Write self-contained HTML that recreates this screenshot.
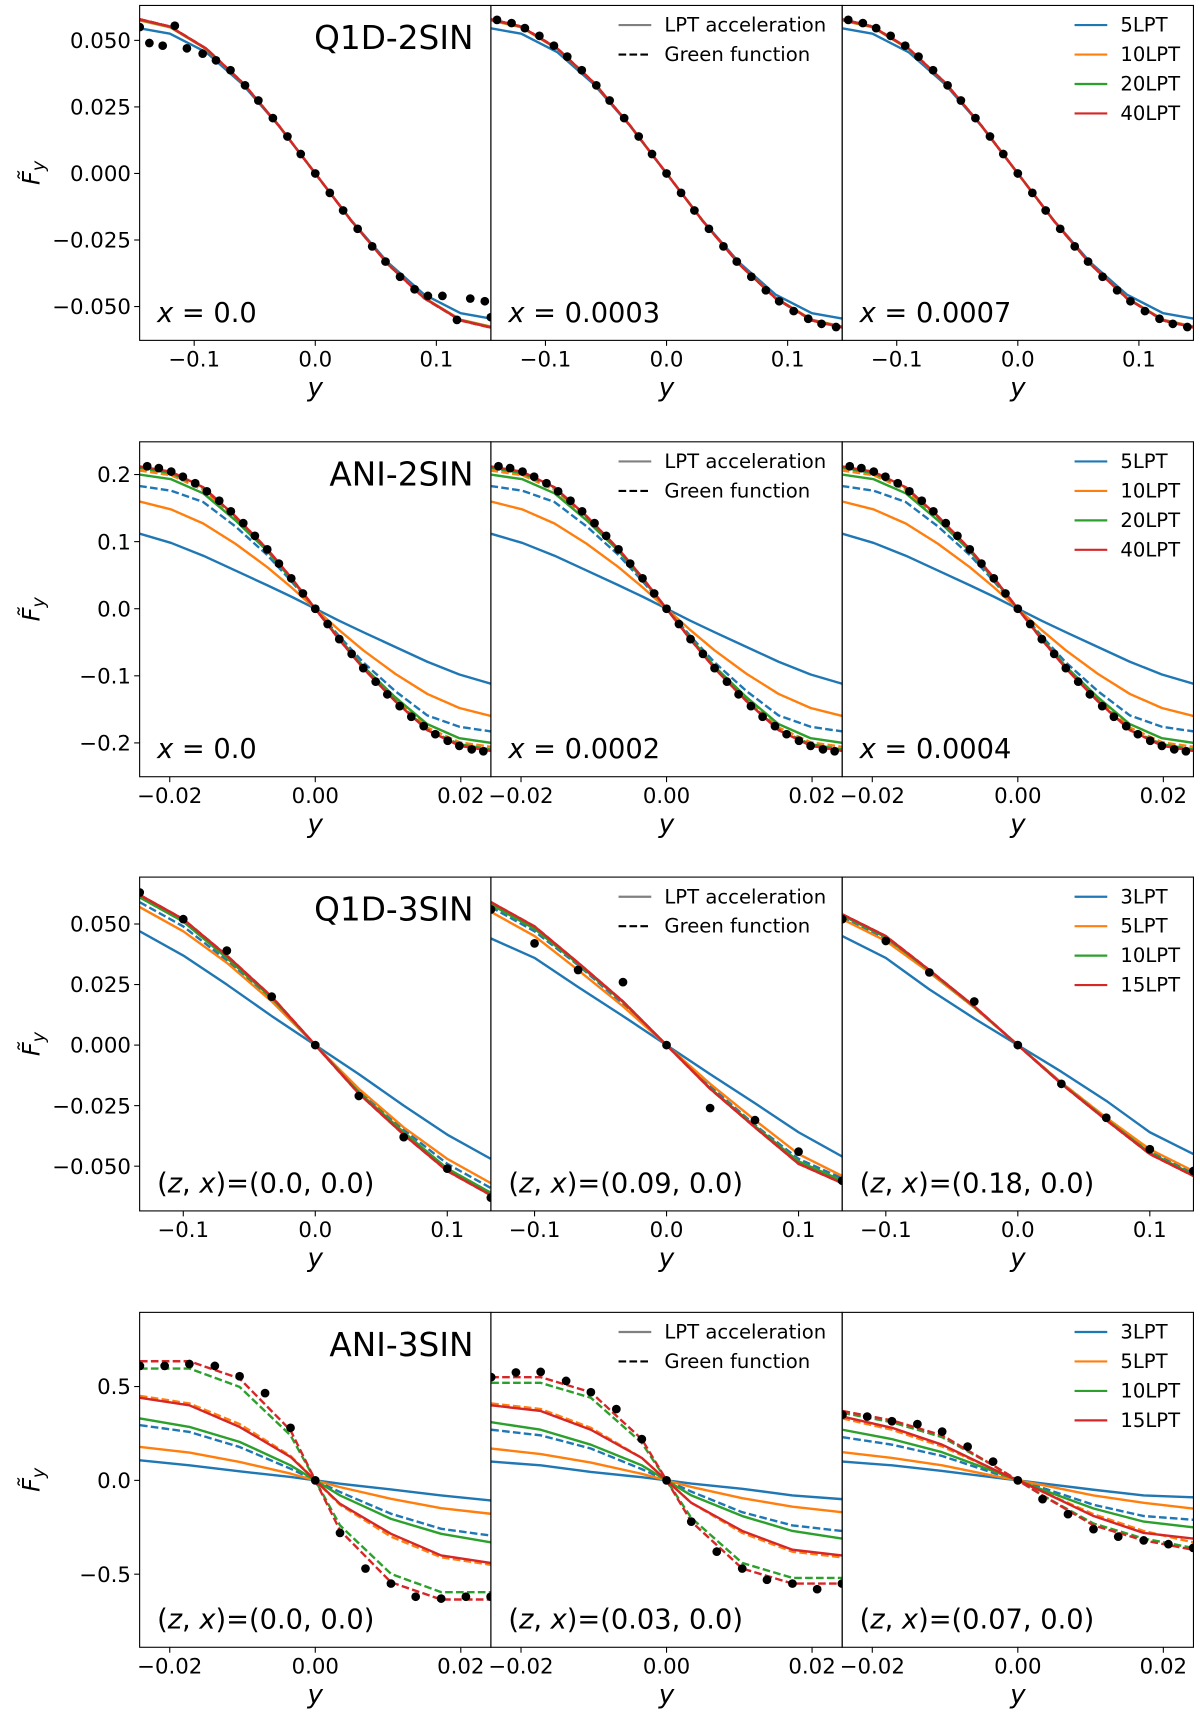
<!DOCTYPE html>
<html><head><meta charset="utf-8"><style>
html,body{margin:0;padding:0;background:#fff;}
svg{display:block;font-family:"DejaVu Sans","Liberation Sans",sans-serif;}
</style></head><body>
<svg id="fig" xmlns="http://www.w3.org/2000/svg" width="1200" height="1712" viewBox="0 0 1100 1569.33"></svg>
<script>
// ---------- Row 1: Q1D-2SIN ----------
const r1xs = [-0.145,-0.12,-0.09,-0.06,-0.03,0,0.03,0.06,0.09,0.12,0.145];
const r1red = [0.0579,0.0552,0.0469,0.0341,0.0179,0,-0.0179,-0.0341,-0.0469,-0.0552,-0.0579];
const r1green = [0.0577,0.0551,0.0468,0.0341,0.0179,0,-0.0179,-0.0341,-0.0468,-0.0551,-0.0577];
const r1orange = [0.0575,0.0549,0.0467,0.0340,0.0179,0,-0.0179,-0.0340,-0.0467,-0.0549,-0.0575];
const r1blue = [0.0545,0.0525,0.0455,0.0335,0.0178,0,-0.0178,-0.0335,-0.0455,-0.0525,-0.0545];
const r1dotX = [-0.14,-0.128,-0.117,-0.105,-0.093,-0.082,-0.070,-0.058,-0.047,-0.035,-0.023,-0.012,0,0.012,0.023,0.035,0.047,0.058,0.070,0.082,0.093,0.105,0.117,0.128,0.14];
const r1dotY = [0.0577,0.0565,0.0546,0.0517,0.048,0.0439,0.0388,0.0331,0.0274,0.0208,0.0139,0.0073,0,-0.0073,-0.0139,-0.0208,-0.0274,-0.0331,-0.0388,-0.0439,-0.048,-0.0517,-0.0546,-0.0565,-0.0577];
const r1p1dotX = [-0.145,-0.137,-0.126,-0.116,-0.106,-0.093,-0.082,-0.070,-0.058,-0.047,-0.035,-0.023,-0.012,0,0.012,0.023,0.035,0.047,0.058,0.070,0.082,0.093,0.105,0.117,0.128,0.14,0.145];
const r1p1dotY = [0.055,0.049,0.048,0.0555,0.047,0.045,0.0425,0.0388,0.0331,0.0274,0.0208,0.0139,0.0073,0,-0.0073,-0.0139,-0.0208,-0.0274,-0.0331,-0.0388,-0.0435,-0.046,-0.046,-0.055,-0.047,-0.048,-0.054];

// ---------- Row 2: ANI-2SIN ----------
const r2xs = [-0.0242,-0.0198,-0.0154,-0.011,-0.0066,-0.0033,0,0.0033,0.0066,0.011,0.0154,0.0198,0.0242];
const r2red = [0.212,0.204,0.181,0.138,0.089,0.046,0,-0.046,-0.089,-0.138,-0.181,-0.204,-0.212];
const r2green = [0.200,0.193,0.172,0.132,0.086,0.044,0,-0.044,-0.086,-0.132,-0.172,-0.193,-0.200];
const r2orange = [0.160,0.148,0.127,0.097,0.062,0.032,0,-0.032,-0.062,-0.097,-0.127,-0.148,-0.160];
const r2blue = [0.112,0.098,0.079,0.057,0.035,0.018,0,-0.018,-0.035,-0.057,-0.079,-0.098,-0.112];
const r2blueD = [0.183,0.176,0.159,0.123,0.080,0.041,0,-0.041,-0.080,-0.123,-0.159,-0.176,-0.183];
const r2orangeD = [0.206,0.199,0.177,0.135,0.087,0.045,0,-0.045,-0.087,-0.135,-0.177,-0.199,-0.206];
const r2greenD = [0.210,0.202,0.180,0.137,0.088,0.046,0,-0.046,-0.088,-0.137,-0.180,-0.202,-0.210];
const r2dotX = [-0.0231,-0.0215,-0.0198,-0.0182,-0.0165,-0.0149,-0.0132,-0.0116,-0.0099,-0.0083,-0.0066,-0.005,-0.0033,-0.0017,0,0.0017,0.0033,0.005,0.0066,0.0083,0.0099,0.0116,0.0132,0.0149,0.0165,0.0182,0.0198,0.0215,0.0231];
const r2dotY = [0.2124,0.2096,0.2044,0.1968,0.187,0.175,0.161,0.1452,0.1276,0.1087,0.0885,0.0673,0.0453,0.0228,0,-0.0228,-0.0453,-0.0673,-0.0885,-0.1087,-0.1276,-0.1452,-0.161,-0.175,-0.187,-0.1968,-0.2044,-0.2096,-0.2124];

// ---------- Row 3: Q1D-3SIN ----------
const r3xs = [-0.133,-0.1,-0.067,-0.033,0,0.033,0.067,0.1,0.133];
const r3p1red = [0.062,0.052,0.037,0.020,0,-0.020,-0.037,-0.052,-0.062];
const r3p1green = [0.061,0.051,0.036,0.0195,0,-0.0195,-0.036,-0.051,-0.061];
const r3p1orange = [0.057,0.047,0.034,0.018,0,-0.018,-0.034,-0.047,-0.057];
const r3p1blue = [0.047,0.037,0.025,0.012,0,-0.012,-0.025,-0.037,-0.047];
const r3p1blueD = [0.059,0.049,0.035,0.019,0,-0.019,-0.035,-0.049,-0.059];
const r3p2red = [0.059,0.049,0.034,0.018,0,-0.018,-0.034,-0.049,-0.057];
const r3p2green = [0.058,0.048,0.0335,0.0178,0,-0.0178,-0.0335,-0.048,-0.056];
const r3p2orange = [0.055,0.045,0.031,0.016,0,-0.016,-0.031,-0.045,-0.054];
const r3p2blue = [0.044,0.036,0.024,0.012,0,-0.012,-0.024,-0.036,-0.046];
const r3p2blueD = [0.057,0.047,0.033,0.017,0,-0.017,-0.033,-0.047,-0.055];
const r3p3red = [0.054,0.045,0.031,0.016,0,-0.016,-0.031,-0.045,-0.054];
const r3p3green = [0.0535,0.0445,0.0307,0.0158,0,-0.0158,-0.0307,-0.0445,-0.0535];
const r3p3orange = [0.052,0.043,0.030,0.0155,0,-0.0155,-0.030,-0.043,-0.052];
const r3p3blue = [0.045,0.036,0.023,0.011,0,-0.011,-0.023,-0.036,-0.045];
const r3p3blueD = [0.053,0.044,0.030,0.0155,0,-0.0155,-0.030,-0.044,-0.053];
const r3dotX = [-0.133,-0.1,-0.067,-0.033,0,0.033,0.067,0.1,0.133];
const r3p1dotY = [0.063,0.052,0.039,0.020,0,-0.021,-0.038,-0.051,-0.063];
const r3p2dotY = [0.056,0.042,0.031,0.026,0,-0.026,-0.031,-0.044,-0.056];
const r3p3dotY = [0.052,0.043,0.030,0.018,0,-0.016,-0.030,-0.043,-0.052];

// ---------- Row 4: ANI-3SIN ----------
const r4xs = [-0.0241,-0.0173,-0.0104,-0.0034,0,0.0034,0.0104,0.0173,0.0241];
const r4p1redD = [0.635,0.635,0.543,0.267,0,-0.267,-0.543,-0.635,-0.635];
const r4p1greenD = [0.596,0.596,0.498,0.24,0,-0.24,-0.498,-0.596,-0.596];
const r4p1red = [0.44,0.40,0.285,0.125,0,-0.125,-0.285,-0.40,-0.44];
const r4p1orangeD = [0.45,0.41,0.30,0.13,0,-0.13,-0.30,-0.41,-0.45];
const r4p1green = [0.33,0.285,0.205,0.08,0,-0.08,-0.205,-0.285,-0.33];
const r4p1blueD = [0.294,0.258,0.178,0.062,0,-0.062,-0.178,-0.258,-0.294];
const r4p1orange = [0.178,0.148,0.098,0.036,0,-0.036,-0.098,-0.148,-0.178];
const r4p1blue = [0.107,0.08,0.048,0.018,0,-0.018,-0.048,-0.08,-0.107];
const r4p2redD = [0.55,0.55,0.47,0.22,0,-0.22,-0.47,-0.55,-0.55];
const r4p2greenD = [0.52,0.52,0.44,0.20,0,-0.20,-0.44,-0.52,-0.52];
const r4p2red = [0.40,0.37,0.27,0.12,0,-0.12,-0.27,-0.37,-0.40];
const r4p2orangeD = [0.41,0.38,0.28,0.12,0,-0.12,-0.28,-0.38,-0.41];
const r4p2green = [0.31,0.27,0.19,0.08,0,-0.08,-0.19,-0.27,-0.31];
const r4p2blueD = [0.27,0.24,0.17,0.06,0,-0.06,-0.17,-0.24,-0.27];
const r4p2orange = [0.17,0.14,0.095,0.035,0,-0.035,-0.095,-0.14,-0.17];
const r4p2blue = [0.10,0.08,0.045,0.017,0,-0.017,-0.045,-0.08,-0.10];
const r4p3redD = [0.37,0.32,0.24,0.08,0,-0.08,-0.24,-0.32,-0.37];
const r4p3greenD = [0.36,0.31,0.23,0.08,0,-0.08,-0.23,-0.31,-0.36];
const r4p3red = [0.34,0.28,0.19,0.06,0,-0.06,-0.19,-0.28,-0.31];
const r4p3orangeD = [0.33,0.27,0.18,0.06,0,-0.06,-0.18,-0.27,-0.33];
const r4p3green = [0.27,0.22,0.15,0.05,0,-0.05,-0.15,-0.22,-0.25];
const r4p3blueD = [0.23,0.19,0.13,0.04,0,-0.04,-0.13,-0.19,-0.21];
const r4p3orange = [0.15,0.12,0.08,0.025,0,-0.025,-0.08,-0.12,-0.15];
const r4p3blue = [0.10,0.08,0.05,0.016,0,-0.016,-0.05,-0.08,-0.09];
const r4dotX = [-0.0241,-0.0207,-0.0173,-0.0138,-0.0104,-0.0069,-0.0034,0,0.0034,0.0069,0.0104,0.0138,0.0173,0.0207,0.0241];
const r4p1dotY = [0.61,0.61,0.62,0.61,0.555,0.465,0.28,0,-0.28,-0.47,-0.55,-0.62,-0.63,-0.62,-0.62];
const r4p2dotY = [0.55,0.575,0.578,0.53,0.47,0.38,0.22,0,-0.22,-0.38,-0.47,-0.53,-0.55,-0.58,-0.55];
const r4p3dotY = [0.35,0.34,0.315,0.30,0.26,0.18,0.10,0,-0.10,-0.18,-0.26,-0.30,-0.32,-0.34,-0.36];

const C = {blue:'#1f77b4', orange:'#ff7f0e', green:'#2ca02c', red:'#d62728'};
const NS = 'http://www.w3.org/2000/svg';
const svg = document.getElementById('fig');
function mk(tag, attrs, parent){ const e=document.createElementNS(NS,tag); for(const k in attrs) e.setAttribute(k,attrs[k]); (parent||svg).appendChild(e); return e; }

const rows = [
 {top:5,bot:312,zeroY:159,ys:2440,xs:1110,title:'Q1D-2SIN',
  yt:[0.05,0.025,0,-0.025,-0.05], ytl:['0.050','0.025','0.000','\u22120.025','\u22120.050'],
  xt:[-0.1,0,0.1], xtl:['\u22120.1','0.0','0.1'],
  legend:['5LPT','10LPT','20LPT','40LPT'],
  ann:[['x','','0.0'],['x','','0.0003'],['x','','0.0007']],
  panels:[
   {x:r1xs,solid:[r1blue,r1orange,r1green,r1red],dash:[r1red,r1red,r1red,r1red],dx:r1p1dotX,dy:r1p1dotY},
   {x:r1xs,solid:[r1blue,r1orange,r1green,r1red],dash:[r1red,r1red,r1red,r1red],dx:r1dotX,dy:r1dotY},
   {x:r1xs,solid:[r1blue,r1orange,r1green,r1red],dash:[r1red,r1red,r1red,r1red],dx:r1dotX,dy:r1dotY}]},
 {top:405,bot:712,zeroY:558,ys:615,xs:6670,title:'ANI-2SIN',
  yt:[0.2,0.1,0,-0.1,-0.2], ytl:['0.2','0.1','0.0','\u22120.1','\u22120.2'],
  xt:[-0.02,0,0.02], xtl:['\u22120.02','0.00','0.02'],
  legend:['5LPT','10LPT','20LPT','40LPT'],
  ann:[['x','','0.0'],['x','','0.0002'],['x','','0.0004']],
  panels:[0,1,2].map(()=>({x:r2xs,solid:[r2blue,r2orange,r2green,r2red],dash:[r2blueD,r2orangeD,r2greenD,r2red],dx:r2dotX,dy:r2dotY}))},
 {top:804,bot:1110,zeroY:958,ys:2220,xs:1210,title:'Q1D-3SIN',
  yt:[0.05,0.025,0,-0.025,-0.05], ytl:['0.050','0.025','0.000','\u22120.025','\u22120.050'],
  xt:[-0.1,0,0.1], xtl:['\u22120.1','0.0','0.1'],
  legend:['3LPT','5LPT','10LPT','15LPT'],
  ann:[['z','x','0.0, 0.0'],['z','x','0.09, 0.0'],['z','x','0.18, 0.0']],
  panels:[
   {x:r3xs,solid:[r3p1blue,r3p1orange,r3p1green,r3p1red],dash:[r3p1blueD,r3p1green,r3p1red,r3p1red],dx:r3dotX,dy:r3p1dotY},
   {x:r3xs,solid:[r3p2blue,r3p2orange,r3p2green,r3p2red],dash:[r3p2blueD,r3p2green,r3p2red,r3p2red],dx:r3dotX,dy:r3p2dotY},
   {x:r3xs,solid:[r3p3blue,r3p3orange,r3p3green,r3p3red],dash:[r3p3blueD,r3p3green,r3p3red,r3p3red],dx:r3dotX,dy:r3p3dotY}]},
 {top:1203,bot:1510,zeroY:1357,ys:172,xs:6670,title:'ANI-3SIN',
  yt:[0.5,0,-0.5], ytl:['0.5','0.0','\u22120.5'],
  xt:[-0.02,0,0.02], xtl:['\u22120.02','0.00','0.02'],
  legend:['3LPT','5LPT','10LPT','15LPT'],
  ann:[['z','x','0.0, 0.0'],['z','x','0.03, 0.0'],['z','x','0.07, 0.0']],
  panels:[
   {x:r4xs,solid:[r4p1blue,r4p1orange,r4p1green,r4p1red],dash:[r4p1blueD,r4p1orangeD,r4p1greenD,r4p1redD],dx:r4dotX,dy:r4p1dotY},
   {x:r4xs,solid:[r4p2blue,r4p2orange,r4p2green,r4p2red],dash:[r4p2blueD,r4p2orangeD,r4p2greenD,r4p2redD],dx:r4dotX,dy:r4p2dotY},
   {x:r4xs,solid:[r4p3blue,r4p3orange,r4p3green,r4p3red],dash:[r4p3blueD,r4p3orangeD,r4p3greenD,r4p3redD],dx:r4dotX,dy:r4p3dotY}]}
];
const colKeys = ['blue','orange','green','red'];

rows.forEach((R,ri)=>{
  for(let c=0;c<3;c++){
    const L = 128+322*c, cx = L+161;
    const sx = v => cx + v*R.xs;
    const sy = v => R.zeroY - v*R.ys;
    const g = mk('g',{});
    
    
    const cid = 'clip'+ri+c;
    const cp = mk('clipPath',{id:cid},g);
    mk('rect',{x:L,y:R.top,width:322,height:R.bot-R.top},cp);
    const plot = mk('g',{'clip-path':'url(#'+cid+')'},g);
    const P = R.panels[c];
    for(let k=0;k<4;k++){
      const ptsS = P.x.map((xv,i)=>sx(xv).toFixed(1)+','+sy(P.solid[k][i]).toFixed(1)).join(' ');
      const ls = mk('polyline',{points:ptsS,fill:'none',stroke:C[colKeys[k]],'stroke-width':2.2,'stroke-linejoin':'round'},plot);
      
      
      const ptsD = P.x.map((xv,i)=>sx(xv).toFixed(1)+','+sy(P.dash[k][i]).toFixed(1)).join(' ');
      const ld = mk('polyline',{points:ptsD,fill:'none',stroke:C[colKeys[k]],'stroke-width':2.2,'stroke-dasharray':'7,3'},plot);
      
      
    }
    P.dx.forEach((xv,i)=>{
      const d = mk('circle',{cx:sx(xv),cy:sy(P.dy[i]),r:4,fill:'#000'},plot);
      
      
    });
    mk('rect',{x:L,y:R.top,width:322,height:R.bot-R.top,fill:'none',stroke:'#000','stroke-width':1},g);
    R.xt.forEach((t,i)=>{
      const X = sx(t);
      mk('line',{x1:X,x2:X,y1:R.bot,y2:R.bot+5,stroke:'#000','stroke-width':1},g);
      const tl = mk('text',{x:X,y:R.bot+24,'text-anchor':'middle','font-size':19.5},g);
      tl.textContent = R.xtl[i];
      
      
    });
    const xl = mk('text',{x:cx,y:R.bot+51,'text-anchor':'middle','font-size':24,'font-style':'italic'},g);
    xl.textContent='y';
    
    
    if(c===0){
      R.yt.forEach((t,i)=>{
        const Y = sy(t);
        mk('line',{x1:L-5,x2:L,y1:Y,y2:Y,stroke:'#000','stroke-width':1},g);
        const tl = mk('text',{x:L-8,y:Y+7,'text-anchor':'end','font-size':19.5},g);
        tl.textContent = R.ytl[i];
        
        
      });
      const my = (R.top+R.bot)/2;
      const yl = mk('text',{x:0,y:0,transform:'translate(36,'+my+') rotate(-90)','text-anchor':'middle','font-size':22},g);
      
      
      const t1 = mk('tspan',{'font-style':'italic'},yl); t1.textContent='F\u0303';
      const t2 = mk('tspan',{'font-style':'italic','font-size':16,dy:5},yl); t2.textContent='y';
      const tt = mk('text',{x:L+306,y:R.top+40,'text-anchor':'end','font-size':30},g);
      tt.textContent = R.title;
      
      
    }
    const a = R.ann[c];
    const an = mk('text',{x:L+16,y:R.bot-17,'font-size':25},g);
    
    
    if(a[1]===''){
      const s1=mk('tspan',{'font-style':'italic'},an); s1.textContent='x';
      const s2=mk('tspan',{},an); s2.textContent=' = '+a[2];
    } else {
      const s0=mk('tspan',{},an); s0.textContent='(';
      const s1=mk('tspan',{'font-style':'italic'},an); s1.textContent='z';
      const s2=mk('tspan',{},an); s2.textContent=', ';
      const s3=mk('tspan',{'font-style':'italic'},an); s3.textContent='x';
      const s4=mk('tspan',{},an); s4.textContent=')=('+a[2]+')';
    }
    if(c===1){
      const items=[['LPT acceleration','#808080',null],['Green function','#000','7,3']];
      items.forEach((it,i)=>{
        const Y = R.top+18+27*i;
        const ln = mk('line',{x1:L+117,x2:L+147,y1:Y,y2:Y,stroke:it[1],'stroke-width':2},g);
        if(it[2]) ln.setAttribute('stroke-dasharray',it[2]);
        
        
        const tx = mk('text',{x:L+159,y:Y+6,'font-size':18},g);
        tx.textContent = it[0];
        
        
      });
    }
    if(c===2){
      R.legend.forEach((lab,i)=>{
        const Y = R.top+18+27*i;
        const ln = mk('line',{x1:L+213,x2:L+243,y1:Y,y2:Y,stroke:C[colKeys[i]],'stroke-width':2},g);
        
        
        const tx = mk('text',{x:L+255,y:Y+6,'font-size':18},g);
        tx.textContent = lab;
        
        
      });
    }
  }
});
</script>
</body></html>
